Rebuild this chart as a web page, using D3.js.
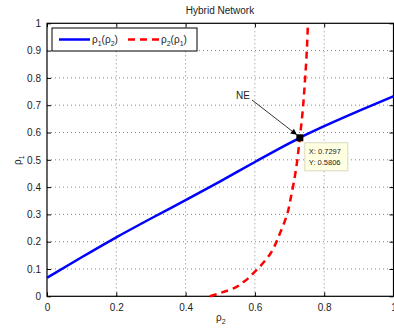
<!DOCTYPE html>
<html><head><meta charset="utf-8">
<script src="https://cdn.jsdelivr.net/npm/d3@7"></script>
<style>body{margin:0;background:#fff}svg{display:block;font-family:"Liberation Sans",Arial,sans-serif}</style>
</head><body><svg id="c" width="394" height="331"></svg>
<script>
const xTicks=[0,0.2,0.4,0.6,0.8,1];
const yTicks=[0,0.1,0.2,0.3,0.4,0.5,0.6,0.7,0.8,0.9,1];
const blueX=[0,0.1,0.2,0.3,0.4,0.5,0.6,0.7,0.7297,0.8,0.9,1.0];
const blueY=[0.068,0.143,0.216,0.285,0.352,0.421,0.492,0.561,0.5806,0.623,0.679,0.733];
const redX=[0.47,0.50,0.54,0.57,0.60,0.645,0.672,0.693,0.705,0.718,0.7297,0.738,0.744,0.749,0.753];
const redY=[0,0.012,0.03,0.055,0.09,0.157,0.23,0.30,0.37,0.46,0.5806,0.68,0.78,0.88,1.0];
const ne={x:0.7297,y:0.5806};

const svg=d3.select("#c");
const L=47,R=393.5,T=23.3,B=296.3;
const x=d3.scaleLinear().domain([0,1]).range([L,R]);
const y=d3.scaleLinear().domain([0,1]).range([B,T]);
const g=svg.append("g");
// grid
g.selectAll(".gx").data(xTicks.slice(1,-1)).enter().append("line")
 .attr("x1",d=>x(d)).attr("x2",d=>x(d)).attr("y1",T).attr("y2",B)
 .attr("stroke","#555").attr("stroke-width",0.7).attr("stroke-dasharray","1,3");
g.selectAll(".gy").data(yTicks.slice(1,-1)).enter().append("line")
 .attr("y1",d=>y(d)).attr("y2",d=>y(d)).attr("x1",L).attr("x2",R)
 .attr("stroke","#555").attr("stroke-width",0.7).attr("stroke-dasharray","1,3");
// axes
const fmt=d=>d===0?"0":d===1?"1":String(d).replace(/^0/,"0");
const ax=g.append("g").attr("transform",`translate(0,${B})`).call(d3.axisBottom(x).tickValues(xTicks).tickSize(-4).tickPadding(8).tickFormat(fmt));
const axt=g.append("g").attr("transform",`translate(0,${T})`).call(d3.axisTop(x).tickValues(xTicks).tickSize(-4).tickFormat(""));
const ay=g.append("g").attr("transform",`translate(${L},0)`).call(d3.axisLeft(y).tickValues(yTicks).tickSize(-4).tickPadding(6).tickFormat(fmt));
const ayr=g.append("g").attr("transform",`translate(${R},0)`).call(d3.axisRight(y).tickValues(yTicks).tickSize(-4).tickFormat(""));
[ax,axt,ay,ayr].forEach(a=>{a.select(".domain").remove();a.selectAll("line").attr("stroke","#000");a.selectAll("text").attr("font-size",10).attr("fill","#222").attr("font-family","Liberation Sans, Arial, sans-serif");});
g.append("rect").attr("x",L).attr("y",T).attr("width",R-L).attr("height",B-T).attr("fill","none").attr("stroke","#000").attr("stroke-width",1.2);
// lines
const bl=blueX.map((v,i)=>[v,blueY[i]]);
const rl=redX.map((v,i)=>[v,redY[i]]);
const line=d3.line().x(d=>x(d[0])).y(d=>y(d[1])).curve(d3.curveMonotoneX);
const lineR=d3.line().x(d=>x(d[0])).y(d=>y(d[1])).curve(d3.curveMonotoneY);
g.append("path").attr("d",line(bl)).attr("fill","none").attr("stroke","#0000ff").attr("stroke-width",2.5);
g.append("path").attr("d",lineR(rl)).attr("fill","none").attr("stroke","#ff0000").attr("stroke-width",2.5).attr("stroke-dasharray","7,5");
// arrow
svg.append("defs").append("marker").attr("id","ah").attr("viewBox","0 0 10 10").attr("refX",10).attr("refY",5)
 .attr("markerWidth",8).attr("markerHeight",6).attr("orient","auto").attr("markerUnits","userSpaceOnUse")
 .append("path").attr("d","M0,0L10,5L0,10z").attr("fill","#000");
g.append("line").attr("x1",252).attr("y1",100).attr("x2",x(ne.x)-3).attr("y2",y(ne.y)-3)
 .attr("stroke","#000").attr("stroke-width",0.8).attr("marker-end","url(#ah)");
g.append("text").attr("x",236).attr("y",99).attr("font-size",10).attr("fill","#222").text("NE");
// marker
g.append("rect").attr("x",x(ne.x)-3.5).attr("y",y(ne.y)-3.5).attr("width",7).attr("height",7).attr("fill","#000");
// datatip
g.append("rect").attr("x",x(ne.x)+5).attr("y",y(ne.y)+5).attr("width",43).attr("height",28)
 .attr("fill","#ffffe1").attr("stroke","#d8d8c0").attr("stroke-width",1);
g.append("text").attr("x",x(ne.x)+9).attr("y",y(ne.y)+16).attr("font-size",7.5).attr("fill","#222").text("X: "+ne.x.toFixed(4));
g.append("text").attr("x",x(ne.x)+9).attr("y",y(ne.y)+27).attr("font-size",7.5).attr("fill","#222").text("Y: "+ne.y.toFixed(4));
// title & labels
svg.append("text").attr("x",220).attr("y",14).attr("text-anchor","middle").attr("font-size",10).attr("fill","#222").text("Hybrid Network");
const xl=svg.append("text").attr("x",216).attr("y",321).attr("font-size",10).attr("fill","#222");
xl.append("tspan").text("ρ");xl.append("tspan").attr("font-size",7).attr("dy",3).text("2");
const yl=svg.append("text").attr("transform","translate(21,165) rotate(-90)").attr("font-size",10).attr("fill","#222");
yl.append("tspan").text("ρ");yl.append("tspan").attr("font-size",7).attr("dy",3).text("1");
// legend
const lg=svg.append("g");
lg.append("rect").attr("x",52).attr("y",28).attr("width",145).attr("height",23).attr("fill","#fff").attr("stroke","#000").attr("stroke-width",1);
lg.append("line").attr("x1",59).attr("x2",90).attr("y1",39.5).attr("y2",39.5).attr("stroke","#0000ff").attr("stroke-width",2.5);
lg.append("line").attr("x1",128).attr("x2",159).attr("y1",39.5).attr("y2",39.5).attr("stroke","#ff0000").attr("stroke-width",2.5).attr("stroke-dasharray","7,5");
function lab(xp,a,b){const t=lg.append("text").attr("x",xp).attr("y",43).attr("font-size",10).attr("fill","#222");
 t.append("tspan").text("ρ");t.append("tspan").attr("font-size",7).attr("dy",3).text(a);
 t.append("tspan").attr("dy",-3).text("(ρ");t.append("tspan").attr("font-size",7).attr("dy",3).text(b);
 t.append("tspan").attr("dy",-3).text(")");}
lab(92,"1","2");lab(161,"2","1");
</script></body></html>
